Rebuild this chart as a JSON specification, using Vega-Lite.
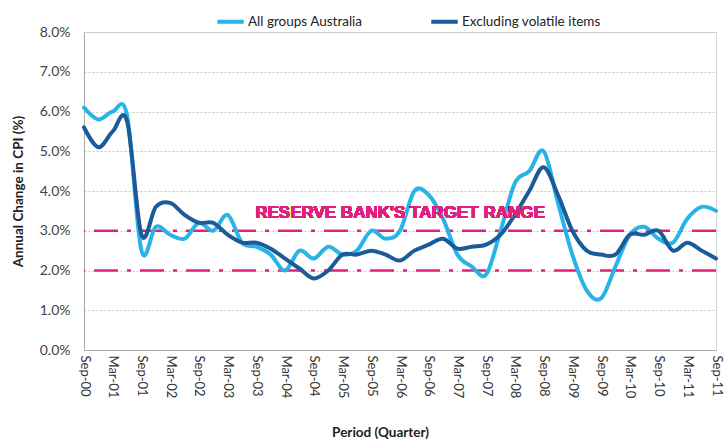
{
  "$schema": "https://vega.github.io/schema/vega-lite/v6.json",
  "width": 632,
  "height": 318,
  "autosize": "none",
  "padding": {"left": 84, "top": 32, "right": 9, "bottom": 91},
  "background": "white",
  "config": {
    "font": "Lato",
    "view": {"stroke": "#d4d4d4", "strokeWidth": 1},
    "axisY": {
      "titleFontWeight": "bold",
      "titleFontSize": 13.5,
      "titleColor": "#222",
      "titleX": -66,
      "titleBaseline": "middle",
      "labelFontSize": 14,
      "labelColor": "#444",
      "labelPadding": 14,
      "labelOverlap": false,
      "ticks": false,
      "domainColor": "#aaaaaa",
      "grid": true,
      "gridColor": "#c8c8c8",
      "gridDash": [2, 2]
    }
  },
  "data": {
    "values": [
      {"q": "Sep-00", "a": 6.1, "e": 5.6},
      {"q": "Dec-00", "a": 5.8, "e": 5.1},
      {"q": "Mar-01", "a": 6.0, "e": 5.5},
      {"q": "Jun-01", "a": 5.9, "e": 5.75},
      {"q": "Sep-01", "a": 2.5, "e": 2.9},
      {"q": "Dec-01", "a": 3.1, "e": 3.6},
      {"q": "Mar-02", "a": 2.9, "e": 3.7},
      {"q": "Jun-02", "a": 2.8, "e": 3.4},
      {"q": "Sep-02", "a": 3.2, "e": 3.2},
      {"q": "Dec-02", "a": 3.0, "e": 3.2},
      {"q": "Mar-03", "a": 3.4, "e": 2.9},
      {"q": "Jun-03", "a": 2.7, "e": 2.7},
      {"q": "Sep-03", "a": 2.6, "e": 2.7},
      {"q": "Dec-03", "a": 2.4, "e": 2.55},
      {"q": "Mar-04", "a": 2.0, "e": 2.3},
      {"q": "Jun-04", "a": 2.5, "e": 2.05},
      {"q": "Sep-04", "a": 2.3, "e": 1.8},
      {"q": "Dec-04", "a": 2.6, "e": 2.0},
      {"q": "Mar-05", "a": 2.4, "e": 2.4},
      {"q": "Jun-05", "a": 2.5, "e": 2.4},
      {"q": "Sep-05", "a": 3.0, "e": 2.5},
      {"q": "Dec-05", "a": 2.8, "e": 2.4},
      {"q": "Mar-06", "a": 3.0, "e": 2.25},
      {"q": "Jun-06", "a": 4.0, "e": 2.5},
      {"q": "Sep-06", "a": 3.9, "e": 2.65},
      {"q": "Dec-06", "a": 3.3, "e": 2.8},
      {"q": "Mar-07", "a": 2.4, "e": 2.55},
      {"q": "Jun-07", "a": 2.1, "e": 2.6},
      {"q": "Sep-07", "a": 1.9, "e": 2.65},
      {"q": "Dec-07", "a": 3.0, "e": 2.9},
      {"q": "Mar-08", "a": 4.2, "e": 3.4},
      {"q": "Jun-08", "a": 4.5, "e": 4.0},
      {"q": "Sep-08", "a": 5.0, "e": 4.6},
      {"q": "Dec-08", "a": 3.7, "e": 3.9},
      {"q": "Mar-09", "a": 2.4, "e": 3.0},
      {"q": "Jun-09", "a": 1.5, "e": 2.5},
      {"q": "Sep-09", "a": 1.3, "e": 2.4},
      {"q": "Dec-09", "a": 2.1, "e": 2.4},
      {"q": "Mar-10", "a": 2.9, "e": 2.9},
      {"q": "Jun-10", "a": 3.1, "e": 2.9},
      {"q": "Sep-10", "a": 2.8, "e": 3.0},
      {"q": "Dec-10", "a": 2.7, "e": 2.5},
      {"q": "Mar-11", "a": 3.3, "e": 2.7},
      {"q": "Jun-11", "a": 3.6, "e": 2.5},
      {"q": "Sep-11", "a": 3.5, "e": 2.3}
    ]
  },
  "encoding": {
    "y": {
      "type": "quantitative",
      "scale": {"domain": [0, 8], "nice": false},
      "axis": {
        "title": "Annual Change in CPI (%)",
        "values": [0, 1, 2, 3, 4, 5, 6, 7, 8],
        "labelExpr": "format(datum.value, '.1f') + '%'"
      }
    }
  },
  "layer": [
    {
      "mark": {"type": "rule", "color": "#e3217d", "strokeWidth": 2.5, "strokeDash": [24, 9, 4, 9]},
      "data": {"values": [{"v": 2}, {"v": 3}]},
      "encoding": {
        "y": {"field": "v", "type": "quantitative", "scale": {"domain": [0, 8], "nice": false}, "axis": {"title": "Annual Change in CPI (%)", "values": [0, 1, 2, 3, 4, 5, 6, 7, 8], "labelExpr": "format(datum.value, '.1f') + '%'"}}
      }
    },
    {
      "transform": [{"fold": ["a", "e"], "as": ["series", "v"]}],
      "mark": {"type": "line", "interpolate": "cardinal", "strokeWidth": 4, "strokeCap": "round", "strokeJoin": "round"},
      "encoding": {
        "x": {
          "field": "q",
          "type": "ordinal",
          "sort": null,
          "scale": {"type": "point", "padding": 0},
          "axis": {
            "title": "Period (Quarter)",
            "titleFontWeight": "bold",
            "titleFontSize": 13.5,
            "titleColor": "#222",
            "titleY": 75,
            "titleX": 296,
            "titleAlign": "center",
            "values": ["Sep-00","Mar-01","Sep-01","Mar-02","Sep-02","Mar-03","Sep-03","Mar-04","Sep-04","Mar-05","Sep-05","Mar-06","Sep-06","Mar-07","Sep-07","Mar-08","Sep-08","Mar-09","Sep-09","Mar-10","Sep-10","Mar-11","Sep-11"],
            "labelAngle": 90,
            "labelFontSize": 13,
            "labelColor": "#333",
            "labelPadding": 5,
            "labelOverlap": false,
            "labelFlush": false,
            "ticks": false,
            "domainColor": "#aaaaaa",
            "grid": false
          }
        },
        "y": {"field": "v", "type": "quantitative", "scale": {"domain": [0, 8], "nice": false}, "axis": {"title": "Annual Change in CPI (%)", "values": [0, 1, 2, 3, 4, 5, 6, 7, 8], "labelExpr": "format(datum.value, '.1f') + '%'"}},
        "color": {
          "field": "series",
          "type": "nominal",
          "scale": {"domain": ["a", "e"], "range": ["#29b3e6", "#1b5b99"]},
          "legend": {
            "title": null,
            "orient": "none",
            "legendX": 131,
            "legendY": -26,
            "direction": "horizontal",
            "symbolType": "stroke",
            "symbolStrokeWidth": 4,
            "symbolSize": 700,
            "labelFontSize": 13.5,
            "labelColor": "#222",
            "labelOffset": 2,
            "columnPadding": 60,
            "labelExpr": "datum.value == 'a' ? 'All groups Australia' : 'Excluding volatile items'"
          }
        }
      }
    },
    {
      "mark": {"type": "text", "text": "RESERVE BANK'S TARGET RANGE", "font": "Liberation Sans", "fontWeight": "bold", "fontSize": 17, "fill": "#e3217d", "baseline": "middle", "align": "center"},
      "encoding": {
        "x": {"datum": "Mar-06"},
        "y": {"datum": 3.45}
      }
    }
  ]
}
